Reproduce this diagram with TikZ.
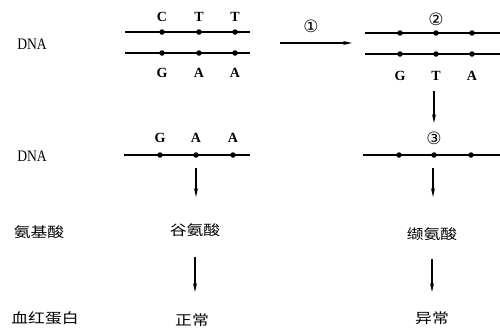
\documentclass[tikz,border=0pt]{standalone}
\usepackage{fontspec}
\setmainfont{Liberation Serif}
\newfontfamily\cjk{Noto Sans CJK SC}
\newfontfamily\symf{DejaVu Sans}
\usetikzlibrary{arrows.meta}
\tikzset{
  strand/.style={line width=1.5pt},
  dotm/.style={circle,fill=black,inner sep=0pt,minimum size=5.5pt},
  base/.style={font=\bfseries\fontsize{14}{14}\selectfont},
  lab/.style={font=\fontsize{16}{16}\selectfont,xscale=0.85},
  zh/.style={font=\cjk\fontsize{14}{14}\selectfont,xscale=1.2},
  num/.style={font=\symf\fontsize{17}{17}\selectfont},
  arr/.style={line width=1.2pt,-{Stealth[length=9pt,width=4pt]}}
}
\begin{document}
\begin{tikzpicture}[x=1pt,y=-1pt]
\useasboundingbox (0,0) rectangle (500,330);
% left labels
\node[lab] (l1) at (32,44) {DNA};
\node[lab] (l2) at (32,156) {DNA};
\node[zh] (l3) at (39,232) {氨基酸};
\node[zh] (l4) at (45,318) {血红蛋白};
% left double strand
\coordinate (a1) at (125,32); \coordinate (a2) at (250,32);
\coordinate (b1) at (125,53); \coordinate (b2) at (250,53);
\draw[strand] (a1) -- (a2);
\draw[strand] (b1) -- (b2);
\foreach \x/\t/\u [count=\i] in {162/C/G,199/T/A,235/T/A}{
  \node[dotm] (ta\i) at (\x,32) {};
  \node[dotm] (tb\i) at (\x,53) {};
  \node[base] at (\x,17) {\t};
  \node[base] at (\x,73) {\u};
}
% arrow 1
\coordinate (r1) at (280,43); \coordinate (r2) at (352,43);
\draw[arr] (r1) -- (r2);
\node[num] (n1) at (311,26) {①};
% right double strand
\coordinate (c1) at (365,33); \coordinate (c2) at (500,33);
\coordinate (d1) at (365,54); \coordinate (d2) at (500,54);
\draw[strand] (c1) -- (c2);
\draw[strand] (d1) -- (d2);
\foreach \x/\u [count=\i] in {400/G,436/T,472/A}{
  \node[dotm] (rc\i) at (\x,33) {};
  \node[dotm] (rd\i) at (\x,54) {};
  \node[base] (rl\i) at (\x,76) {\u};
}
\node[num] (n2) at (436,19) {②};
% right down arrow
\node[num] (n3) at (434,138) {③};
\coordinate (q1) at (434,91); \coordinate (q2) at (434,123);
\draw[arr] (q1) -- (q2);
% middle strands
\draw[strand] (124,155) coordinate (e1) -- (250,155) coordinate (e2);
\foreach \x/\u [count=\i] in {160/G,196/A,233/A}{
  \node[dotm] (m\i) at (\x,155) {};
  \node[base] at (\x,138) {\u};
}
\draw[strand] (363,155) coordinate (f1) -- (500,155) coordinate (f2);
\foreach \x [count=\i] in {399,434,471}{
  \node[dotm] (k\i) at (\x,155) {};
}
% arrows to amino acids
\coordinate (g1) at (196,168); \coordinate (g2) at (196,197);
\draw[arr] (g1) -- (g2);
\coordinate (h1) at (433,168); \coordinate (h2) at (433,197);
\draw[arr] (h1) -- (h2);
% amino acids
\node[zh] (aa1) at (195,230) {谷氨酸};
\node[zh] (aa2) at (432,234) {缬氨酸};
\coordinate (p1) at (195,257); \coordinate (p2) at (195,292);
\draw[arr] (p1) -- (p2);
\coordinate (s1) at (432,259); \coordinate (s2) at (432,292);
\draw[arr] (s1) -- (s2);
\node[zh] (hb1) at (192,320) {正常};
\node[zh] (hb2) at (432,318) {异常};
\end{tikzpicture}
\end{document}
